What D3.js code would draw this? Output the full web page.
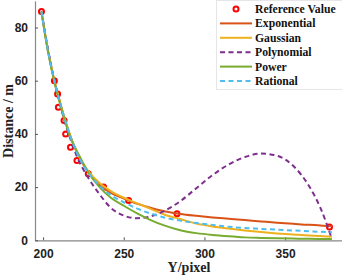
<!DOCTYPE html>
<html>
<head>
<meta charset="utf-8">
<script src="https://cdn.jsdelivr.net/npm/d3@7"></script>
<style>
  body { margin: 0; background: #fff; }
  svg { display: block; }
  .tick text { font-family: "Liberation Sans", Arial, sans-serif; font-weight: bold; font-size: 12px; fill: #222; }
</style>
</head>
<body>
<script>
// reference points
const refX = [199, 207, 209, 209.5, 213, 214, 217, 221, 228, 237.5, 253, 283, 377.5];
const refY = [86, 60, 55, 50, 45, 40, 35, 30, 25, 20, 15, 10, 5];

// fitted curves on a common x grid
const gridX = [199, 203, 207, 210, 213, 217, 221, 228, 235, 242, 250, 258, 266, 275, 285, 295, 305, 315, 325, 335, 345, 355, 365, 372, 379];
const expY   = [86, 71.5, 60, 53, 46.5, 39, 33, 25.5, 20.8, 17.8, 15.7, 13.8, 12.3, 10.9, 9.9, 9.2, 8.6, 8.1, 7.6, 7.1, 6.6, 6.2, 5.8, 5.6, 5.3];
const gaussY = [86, 71.5, 60, 53, 46.5, 39, 33, 26, 21.5, 18.5, 16, 14, 12, 9.7, 8, 6.3, 5.2, 4.4, 3.7, 3.1, 2.6, 2.2, 1.8, 1.6, 1.3];
const polyY  = [86, 72, 60, 52.5, 45.5, 38, 31.5, 23.5, 17.3, 12.2, 9.3, 8.3, 8.9, 11, 14.7, 19.6, 24.5, 28.5, 31.3, 32.6, 31.8, 28, 20.2, 12, 0.5];
const powY   = [86, 71, 59.5, 52.5, 46, 38.5, 33.5, 25.5, 20, 16, 13, 10.2, 7.8, 5.6, 3.8, 2.7, 2.0, 1.5, 1.1, 0.9, 0.75, 0.65, 0.55, 0.5, 0.45];
const ratY   = [86, 71.5, 60, 53, 46.5, 39, 32.8, 25.5, 20.5, 17, 14.3, 12, 10.2, 8.6, 7.4, 6.5, 5.8, 5.1, 4.6, 4.3, 4.0, 3.7, 3.4, 3.2, 3.0];

const xTicks = [200, 250, 300, 350];
const yTicks = [0, 20, 40, 60, 80];

const series = [
  { name: 'Exponential', values: expY,   color: '#D95319', dash: null },
  { name: 'Gaussian',    values: gaussY, color: '#EDB120', dash: null },
  { name: 'Polynomial',  values: polyY,  color: '#7E2F8E', dash: '5,3.5' },
  { name: 'Power',       values: powY,   color: '#77AC30', dash: null },
  { name: 'Rational',    values: ratY,   color: '#4DBEEE', dash: '5,3.5' }
];

const W = 342, H = 276;
let svg = d3.select('body')
  .append('svg')
  .attr('width', W)
  .attr('height', H);

let x = d3.scaleLinear().domain([195, 385]).range([35, 341.6]);
let y = d3.scaleLinear().domain([0, 90]).range([240.3, 0.9]);

svg.append('clipPath').attr('id', 'plot')
  .append('rect')
  .attr('x', x.range()[0]).attr('y', y.range()[1])
  .attr('width', x.range()[1] - x.range()[0])
  .attr('height', y.range()[0] - y.range()[1]);

// axes
let xAxis = svg.append('g')
  .attr('transform', `translate(0, ${y(0)})`)
  .call(d3.axisBottom(x).tickValues(xTicks).tickSizeInner(-3).tickSizeOuter(0).tickPadding(9.5));
let yAxis = svg.append('g')
  .attr('transform', `translate(${x(195)}, 0)`)
  .call(d3.axisLeft(y).tickValues(yTicks).tickSizeInner(-3).tickSizeOuter(0).tickPadding(7));
[xAxis, yAxis].forEach((a) => {
  a.select('.domain').attr('stroke', '#888').attr('stroke-width', 1.2);
  a.selectAll('.tick line').attr('stroke', '#555');
});

svg.append('text')
  .attr('x', 189).attr('y', 272)
  .attr('text-anchor', 'middle')
  .style('font-family', '"Liberation Serif", "Times New Roman", serif')
  .style('font-weight', 'bold').style('font-size', '14px').style('fill', '#222')
  .text('Y/pixel');

svg.append('text')
  .attr('transform', 'translate(12.5, 121) rotate(-90)')
  .attr('text-anchor', 'middle')
  .style('font-family', '"Liberation Serif", "Times New Roman", serif')
  .style('font-weight', 'bold').style('font-size', '14px').style('fill', '#222')
  .text('Distance / m');

let g = svg.append('g').attr('clip-path', 'url(#plot)');

// reference markers (drawn first, under the fitted curves)
g.selectAll('.ref')
  .data(refX.map((d, i) => [d, refY[i]]))
  .enter()
  .append('circle')
  .attr('class', 'ref')
  .attr('cx', (d) => x(d[0]))
  .attr('cy', (d) => y(d[1]))
  .attr('r', 2.5)
  .attr('fill', 'none')
  .attr('stroke', '#FF0000')
  .attr('stroke-width', 2);

let line = d3.line()
  .x((d) => x(d[0]))
  .y((d) => y(d[1]))
  .curve(d3.curveMonotoneX);

series.forEach((s) => {
  g.append('path')
    .datum(gridX.map((d, i) => [d, s.values[i]]))
    .attr('d', line)
    .attr('fill', 'none')
    .attr('stroke', s.color)
    .attr('stroke-width', 2)
    .attr('stroke-dasharray', s.dash);
});

// legend
let legend = svg.append('g');
legend.append('rect')
  .attr('x', 216.5).attr('y', 0.5)
  .attr('width', 130).attr('height', 89)
  .attr('fill', '#fff')
  .attr('stroke', '#e6e6e6');

const rowY = (i) => 9 + i * 14.4;
legend.append('circle')
  .attr('cx', 236).attr('cy', rowY(0)).attr('r', 2.5)
  .attr('fill', 'none').attr('stroke', '#FF0000').attr('stroke-width', 2);

series.forEach((s, i) => {
  legend.append('line')
    .attr('x1', 220).attr('x2', 252)
    .attr('y1', rowY(i + 1)).attr('y2', rowY(i + 1))
    .attr('stroke', s.color).attr('stroke-width', 2)
    .attr('stroke-dasharray', s.dash);
});

legend.selectAll('.label')
  .data(['Reference Value'].concat(series.map((s) => s.name)))
  .enter()
  .append('text')
  .attr('x', 255)
  .attr('y', (d, i) => rowY(i) + 4)
  .style('font-family', '"Liberation Serif", "Times New Roman", serif')
  .style('font-weight', 'bold').style('font-size', '11.7px').style('fill', '#111')
  .text((d) => d);
</script>
</body>
</html>
